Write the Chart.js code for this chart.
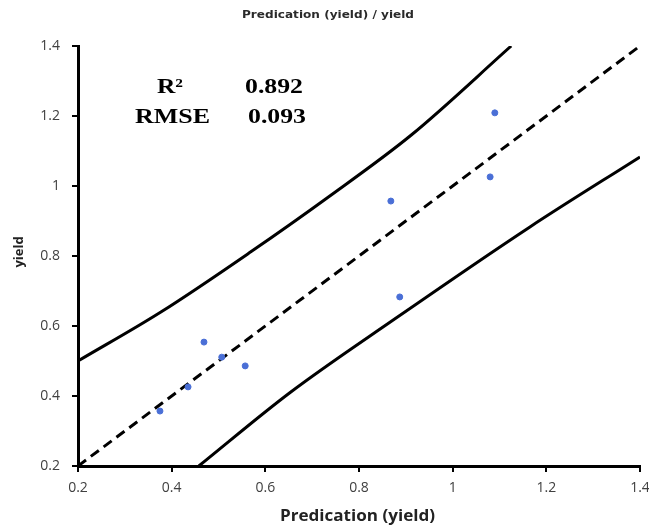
<!DOCTYPE html>
<html>
<head>
<meta charset="utf-8">
<script src="https://cdn.jsdelivr.net/npm/chart.js@4"></script>
<style>
html,body{margin:0;padding:0;background:#fff;}
#wrap{width:649px;height:527px;position:relative;}
</style>
</head>
<body>
<div id="wrap"><canvas id="c" width="649" height="527"></canvas></div>
<script>
// Data
const predicted = [0.375, 0.435, 0.469, 0.507, 0.557, 0.868, 0.887, 1.080, 1.090];
const observed  = [0.357, 0.426, 0.554, 0.511, 0.486, 0.957, 0.683, 1.026, 1.209];
const identityX = [0.2, 1.4];
const identityY = [0.2, 1.4];
const upperX = [0.2, 0.377, 0.569, 0.734, 0.911, 1.125];
const upperY = [0.50, 0.64, 0.812, 0.968, 1.145, 1.4];
const lowerX = [0.458, 0.653, 0.873, 1.165, 1.4];
const lowerY = [0.2, 0.41, 0.617, 0.883, 1.083];
const tickValues = [0.2, 0.4, 0.6, 0.8, 1, 1.2, 1.4];
const statLabels = ['R²', 'RMSE'];
const statValues = ['0.892', '0.093'];
const titleText = 'Predication (yield) / yield';
const xTitle = 'Predication (yield)';
const yTitle = 'yield';

const zip = (a, b) => a.map((v, i) => ({x: v, y: b[i]}));

function fitText(ctx, text, left, right, baseline, font) {
  ctx.save();
  ctx.font = font;
  ctx.textAlign = 'left';
  ctx.textBaseline = 'alphabetic';
  const w = ctx.measureText(text).width;
  const sx = (right - left) / w;
  ctx.translate(left, baseline);
  ctx.scale(sx, 1);
  ctx.fillText(text, 0, 0);
  ctx.restore();
}

const textPlugin = {
  id: 'texts',
  afterDraw(chart) {
    const ctx = chart.ctx;
    ctx.save();
    ctx.fillStyle = '#2a2a2a';
    fitText(ctx, titleText, 242, 414, 18, 'bold 11px "DejaVu Sans", sans-serif');
    ctx.fillStyle = '#222';
    fitText(ctx, xTitle, 280, 435, 521, 'bold 16px "Open Sans", sans-serif');
    ctx.save();
    ctx.translate(23, 252);
    ctx.rotate(-Math.PI / 2);
    ctx.font = 'bold 13px "Open Sans", sans-serif';
    ctx.textAlign = 'center';
    ctx.textBaseline = 'alphabetic';
    ctx.fillText(yTitle, 0, 0);
    ctx.restore();
    ctx.fillStyle = '#000';
    const serif = 'bold 22px "Liberation Serif", "Times New Roman", serif';
    fitText(ctx, statLabels[0], 157, 183, 93, serif);
    fitText(ctx, statValues[0], 245, 303, 93, serif);
    fitText(ctx, statLabels[1], 135, 210, 123, serif);
    fitText(ctx, statValues[1], 248, 306, 123, serif);
    ctx.restore();
  }
};

const axisCommon = {
  type: 'linear',
  min: 0.2,
  max: 1.4,
  border: {color: '#000', width: 3},
  grid: {drawOnChartArea: false, drawTicks: true, tickLength: 6, color: '#000', lineWidth: 2},
};
const tickFont = {family: '"Open Sans", sans-serif', size: 14};

new Chart(document.getElementById('c'), {
  type: 'scatter',
  data: {
    datasets: [
      {data: zip(predicted, observed), backgroundColor: '#4a6fd6', borderColor: '#4a6fd6', pointRadius: 3, pointHoverRadius: 3, order: 0},
      {data: zip(identityX, identityY), showLine: true, borderColor: '#000', borderWidth: 3, borderDash: [10, 6], pointRadius: 0, fill: false, order: 1},
      {data: zip(upperX, upperY), showLine: true, cubicInterpolationMode: 'monotone', borderColor: '#000', borderWidth: 3, pointRadius: 0, fill: false, order: 1},
      {data: zip(lowerX, lowerY), showLine: true, cubicInterpolationMode: 'monotone', borderColor: '#000', borderWidth: 3, pointRadius: 0, fill: false, order: 1}
    ]
  },
  options: {
    responsive: false,
    animation: false,
    layout: {padding: {top: 46, right: 9, left: 0, bottom: 0}},
    plugins: {legend: {display: false}, tooltip: {enabled: false}, title: {display: false}},
    scales: {
      x: Object.assign({}, axisCommon, {
        afterFit(s) { s.height = 61; s.paddingRight = 0; s.paddingLeft = 0; },
        afterBuildTicks(s) { s.ticks = tickValues.map(v => ({value: v})); },
        ticks: {padding: 8, color: '#404040', font: tickFont, maxRotation: 0, autoSkip: false, callback: v => String(+v.toFixed(1))}
      }),
      y: Object.assign({}, axisCommon, {
        afterFit(s) { s.width = 78; s.paddingTop = 0; s.paddingBottom = 0; },
        afterBuildTicks(s) { s.ticks = tickValues.map(v => ({value: v})); },
        ticks: {padding: 12, color: '#404040', font: tickFont, autoSkip: false, callback: v => String(+v.toFixed(1))}
      })
    }
  },
  plugins: [textPlugin]
});
</script>
</body>
</html>
